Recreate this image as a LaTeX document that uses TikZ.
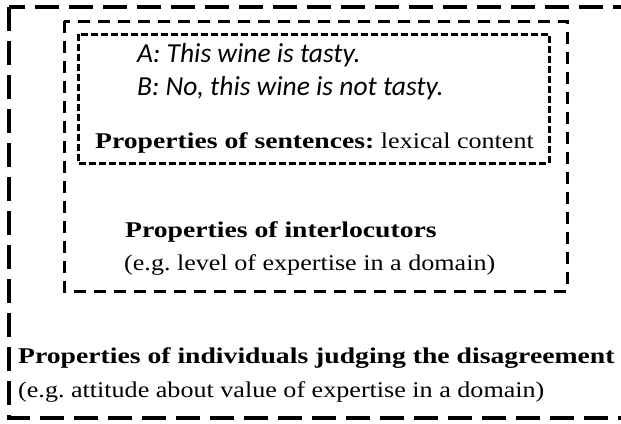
\documentclass[tikz,border=0pt]{standalone}
\usepackage{fontspec}
\setmainfont{Liberation Serif}[FakeStretch=1.16, BoldFeatures={FakeStretch=1.23}]
\newfontfamily\talkfont{Carlito}
\usetikzlibrary{positioning}
\frenchspacing

\tikzset{
    outerbox/.style={line width=3.2pt, dash pattern=on 24pt off 10pt},
    middlebox/.style={line width=3pt, dash pattern=on 12pt off 8pt},
    innerbox/.style={line width=3pt, dash pattern=on 7pt off 3pt},
    label/.style={anchor=base west, inner sep=0pt, font=\fontsize{22.5}{27}\selectfont},
    talk/.style={anchor=base west, inner sep=0pt, font=\talkfont\itshape\fontsize{27.5}{32}\selectfont}
}

\begin{document}
\begin{tikzpicture}[x=1pt, y=-1pt]
    % Fix the size of the page
    \useasboundingbox (0,0) rectangle (621,423);

    % Draw the three nested boxes (the outer one runs off the right edge)
    \draw[outerbox] (9,7) rectangle (660,418);
    \draw[middlebox] (64,21) rectangle (567,291);
    \draw[innerbox] (78,34) rectangle (549,163);

    % The exchange inside the innermost box
    \node[talk] (lineA) at (137,62) {A: This wine is tasty.};
    \node[talk] (lineB) at (137,95) {B: No, this wine is not tasty.};
    \node[label] (sentences) at (95,148) {\textbf{Properties of sentences:} lexical content};

    % Labels of the middle box
    \node[label] (interloc) at (125,237) {\textbf{Properties of interlocutors}};
    \node[label] (interlocEx) at (124,270) {(e.g. level of expertise in a domain)};

    % Labels of the outer box
    \node[label] (judges) at (18,363) {\textbf{Properties of individuals judging the disagreement}};
    \node[label] (judgesEx) at (18,397) {(e.g. attitude about value of expertise in a domain)};
\end{tikzpicture}
\end{document}
